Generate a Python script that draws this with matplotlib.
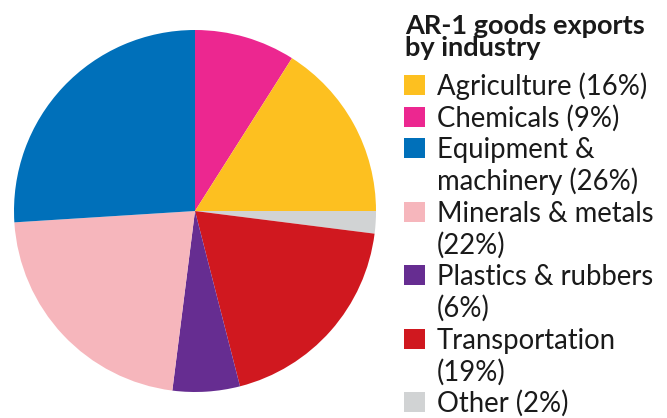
import matplotlib.pyplot as plt
from matplotlib.patches import Rectangle

# slice order, clockwise from 12 o'clock
categories = ["Chemicals", "Agriculture", "Other", "Transportation",
              "Plastics & rubbers", "Minerals & metals", "Equipment & machinery"]
shares = [9, 16, 2, 19, 6, 22, 26]
colors = ["#EC2790", "#FDC020", "#D1D3D4", "#D0181F",
          "#662D91", "#F6B6BC", "#0070BA"]

# legend order and wrapped labels
legend_order = ["Agriculture", "Chemicals", "Equipment & machinery",
                "Minerals & metals", "Plastics & rubbers", "Transportation", "Other"]
legend_labels = ["Agriculture (16%)", "Chemicals (9%)", "Equipment &\nmachinery (26%)",
                 "Minerals & metals\n(22%)", "Plastics & rubbers\n(6%)",
                 "Transportation\n(19%)", "Other (2%)"]
title_lines = ["AR-1 goods exports", "by industry"]

W, H = 667, 418
fig = plt.figure(figsize=(W / 100, H / 100), dpi=100)

# pie centred at (195, 211) px, radius ~181 px
cx, cy, r = 195, 211, 181
ax = fig.add_axes([(cx - r) / W, (H - cy - r) / H, 2 * r / W, 2 * r / H])
ax.pie(shares, colors=colors, startangle=90, counterclock=False, radius=1,
       wedgeprops=dict(linewidth=0))
ax.set_xlim(-1, 1)
ax.set_ylim(-1, 1)
ax.set_aspect("equal")
ax.axis("off")

font = "Lato"
tcolor = "#1a1a1a"

def fy(y_px):
    return 1 - y_px / H

# title
for i, line in enumerate(title_lines):
    fig.text(405 / W, fy(34 + i * 22), line, fontsize=19.5, fontweight="bold",
             family=font, color=tcolor, va="baseline", ha="left")

# legend entries
pitch = 31.7
y = 95
for name, label in zip(legend_order, legend_labels):
    col = colors[categories.index(name)]
    fig.add_artist(Rectangle((404 / W, fy(y)), 21 / W, 20 / H,
                             transform=fig.transFigure, facecolor=col,
                             edgecolor="none"))
    for line in label.split("\n"):
        fig.text(437 / W, fy(y), line, fontsize=19.8, family=font,
                 color=tcolor, va="baseline", ha="left")
        y += pitch

fig.savefig("out.png", dpi=100)
